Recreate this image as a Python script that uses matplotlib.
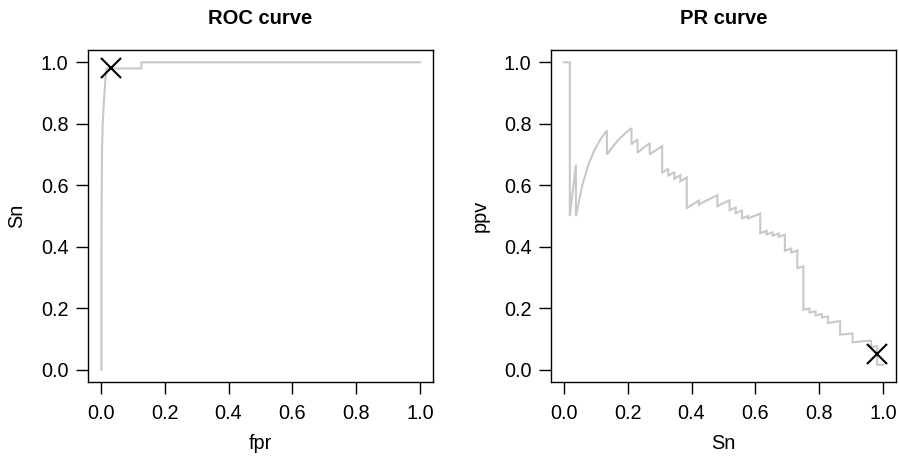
import matplotlib
matplotlib.use("Agg")
import matplotlib.pyplot as plt

plt.rcParams['font.family'] = ['Liberation Sans', 'DejaVu Sans']

# ROC curve data
roc_fpr = [0.002, 0.002, 0.003, 0.004, 0.006, 0.010, 0.015, 0.018, 0.127, 0.127, 1.0]
roc_sn = [0.0, 0.40, 0.60, 0.72, 0.80, 0.877, 0.952, 0.98, 0.98, 1.0, 1.0]
roc_point = (0.033, 0.98)

# PR curve data
pr_sn = [0.0, 0.019, 0.019, 0.038, 0.038, 0.058, 0.077, 0.096, 0.115, 0.135, 0.135,
         0.154, 0.173, 0.192, 0.212, 0.212, 0.231, 0.231, 0.25, 0.269, 0.269,
         0.288, 0.308, 0.308, 0.327, 0.327, 0.346, 0.346, 0.365, 0.365, 0.385,
         0.385, 0.404, 0.423, 0.423, 0.442, 0.462, 0.481, 0.481, 0.5, 0.519,
         0.519, 0.538, 0.538, 0.558, 0.558, 0.577, 0.577, 0.596, 0.615, 0.615,
         0.635, 0.635, 0.654, 0.654, 0.673, 0.673, 0.692, 0.692, 0.712, 0.712,
         0.731, 0.731, 0.75, 0.75, 0.769, 0.769, 0.788, 0.788, 0.808, 0.808,
         0.827, 0.827, 0.846, 0.865, 0.865, 0.885, 0.904, 0.904, 0.923, 0.942,
         0.962, 0.962, 0.981, 0.981, 1.0]
pr_ppv = [1.0, 1.0, 0.5, 0.667, 0.5, 0.6, 0.667, 0.714, 0.75, 0.778, 0.7,
          0.727, 0.75, 0.769, 0.786, 0.733, 0.75, 0.706, 0.722, 0.737, 0.7,
          0.714, 0.727, 0.64, 0.654, 0.63, 0.643, 0.621, 0.633, 0.613, 0.625,
          0.526, 0.538, 0.55, 0.537, 0.548, 0.558, 0.568, 0.532, 0.542, 0.551,
          0.519, 0.528, 0.509, 0.518, 0.492, 0.5, 0.492, 0.5, 0.508, 0.444,
          0.452, 0.44, 0.447, 0.436, 0.443, 0.432, 0.439, 0.387, 0.394, 0.381,
          0.388, 0.33, 0.336, 0.195, 0.199, 0.186, 0.19, 0.177, 0.181, 0.17,
          0.173, 0.152, 0.155, 0.158, 0.114, 0.116, 0.118, 0.089, 0.091, 0.093,
          0.094, 0.075, 0.076, 0.016, 0.016]
pr_point = (0.98, 0.05)

ticks = [0.0, 0.2, 0.4, 0.6, 0.8, 1.0]
tick_labels = ["0.0", "0.2", "0.4", "0.6", "0.8", "1.0"]

W, H = 899, 458
fig = plt.figure(figsize=(W / 100, H / 100), dpi=100)

def make_axes(left_px):
    ax = fig.add_axes([left_px / W, (H - 382) / H, 345 / W, 332 / H])
    ax.set_xlim(-0.04, 1.04)
    ax.set_ylim(-0.04, 1.04)
    ax.set_xticks(ticks)
    ax.set_xticklabels(tick_labels)
    ax.set_yticks(ticks)
    ax.set_yticklabels(tick_labels)
    for s in ax.spines.values():
        s.set_linewidth(1.0)
        s.set_color('black')
    ax.tick_params(axis='both', direction='out', length=8.5, width=1.0,
                   labelsize=14.3, color='black')
    ax.tick_params(axis='x', pad=7)
    ax.tick_params(axis='y', pad=5.5)
    return ax

line_col = '#c8c8c8'

ax1 = make_axes(88)
ax1.plot(roc_fpr, roc_sn, color=line_col, lw=1.5, solid_joinstyle='miter')
ax1.plot([roc_point[0]], [roc_point[1]], marker='x', color='black', ms=15, mew=1.5)
ax1.set_title('ROC curve', fontsize=14.5, fontweight='bold', pad=19)

ax2 = make_axes(551)
ax2.plot(pr_sn, pr_ppv, color=line_col, lw=1.5, solid_joinstyle='miter')
ax2.plot([pr_point[0]], [pr_point[1]], marker='x', color='black', ms=15, mew=1.5)
ax2.set_title('PR curve', fontsize=14.5, fontweight='bold', pad=19)

# axis labels
fig.text(260.5 / W, 1 - 449 / H, 'fpr', ha='center', va='baseline', fontsize=14.3)
fig.text(723.5 / W, 1 - 449 / H, 'Sn', ha='center', va='baseline', fontsize=14.3)
fig.text(17 / W, 1 - 216 / H, 'Sn', ha='center', va='center', rotation=90, fontsize=14.3)
fig.text(480 / W, 1 - 216 / H, 'ppv', ha='center', va='center', rotation=90, fontsize=14.3)

fig.savefig('out.png', dpi=100)
